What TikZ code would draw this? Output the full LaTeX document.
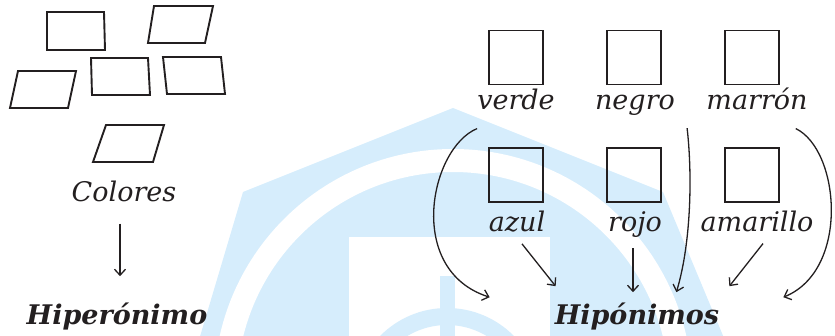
\documentclass[tikz,border=0pt]{standalone}
\usepackage{fontspec}
\setmainfont{DejaVu Serif}
\usetikzlibrary{calc,positioning}
\usetikzlibrary{arrows,arrows.meta}
\definecolor{logoblue}{RGB}{214,237,252}
\definecolor{ink}{RGB}{35,31,32}

\begin{document}
\begin{tikzpicture}[x=1pt,y=-1pt,>={Straight Barb[length=6pt,width=11pt]}]
    \tikzstyle{word} = [inner sep=0pt, anchor=base, text=ink, font=\fontsize{27}{30}\selectfont\itshape]
    \tikzstyle{title} = [inner sep=0pt, anchor=base, text=ink, font=\fontsize{27}{30}\selectfont\bfseries\itshape]
    \tikzstyle{card} = [line width=1.9pt, draw=ink, minimum size=54pt, inner sep=0pt]
    \tikzstyle{tile} = [line width=1.9pt, draw=ink, line join=miter]
    \tikzstyle{link} = [line width=1.3pt, draw=ink, ->]
    \useasboundingbox (0,0) rectangle (835,336);
    % logo behind the picture
    \begin{scope}
      \clip (0,0) rectangle (835,336);
      \fill[logoblue] (453,108) -- (663,192) -- (729,350) -- (196,350) -- (243,192) -- cycle;
      \fill[white,even odd rule] (453,388) circle (239pt) (453,388) circle (216pt);
      \fill[white] (349,237) rectangle (550,340);
      \fill[logoblue,even odd rule] (447,402) circle (94pt) (447,402) circle (77pt);
      \fill[logoblue] (440,276) rectangle (455,340);
    \end{scope}
    % hiperonimo side
    \draw[tile] (47,12) -- (104,12) -- (105,50) -- (47,50) -- cycle;
    \draw[tile] (154,6) -- (213,6) -- (205,43) -- (148,43) -- cycle;
    \draw[tile] (18,71) -- (76,71) -- (68,108) -- (10,108) -- cycle;
    \draw[tile] (91,58) -- (148,58) -- (150,95) -- (92,95) -- cycle;
    \draw[tile] (163,57) -- (221,57) -- (225,94) -- (167,94) -- cycle;
    \draw[tile] (106,125) -- (164,125) -- (153,162) -- (93,162) -- cycle;
    \node[word] (colores) at (124,202) {Colores};
    \node[title] (hiper) at (117,325) {Hiperónimo};
    \draw[link] ($(colores.south)+(-4,21)$) -- ($(hiper.north)+(3,-27)$);
    % hiponimos side
    \node[card] (sqverde) at (516,57.5) {};
    \node[card] (sqnegro) at (634,57.5) {};
    \node[card] (sqmarron) at (752,57.5) {};
    \node[card] (sqazul) at (516,175) {};
    \node[card] (sqrojo) at (634,175) {};
    \node[card] (sqamarillo) at (752,175) {};
    \node[word] (verde) at (516,110) {verde};
    \node[word] (negro) at (635,110) {negro};
    \node[word] (marron) at (757,110) {marrón};
    \node[word] (azul) at (517,232) {azul};
    \node[word] (rojo) at (635,232) {rojo};
    \node[word] (amarillo) at (757,232) {amarillo};
    \node[title] (hipo) at (637,325) {Hipónimos};
    \draw[link] ($(azul.south)+(5,11)$) -- ($(hipo.north west)+(1,-17)$);
    \draw[link] ($(rojo.south)+(-2,10)$) -- ($(hipo.north)+(-4,-11)$);
    \draw[link] ($(amarillo.south)+(6,11)$) -- ($(hipo.north east)+(10,-17)$);
    \draw[link] ($(verde.south west)+(0,18)$) .. controls (430,148) and (405,270) .. ($(hipo.north west)+(-65,-6)$);
    \draw[link] ($(negro.south east)+(12,12)$) .. controls (692,170) and (692,240) .. ($(hipo.north east)+(-43,-11)$);
    \draw[link] ($(marron.south east)+(-12,18)$) .. controls (840,150) and (850,270) .. ($(hipo.north east)+(64,-6)$);
\end{tikzpicture}
\end{document}
